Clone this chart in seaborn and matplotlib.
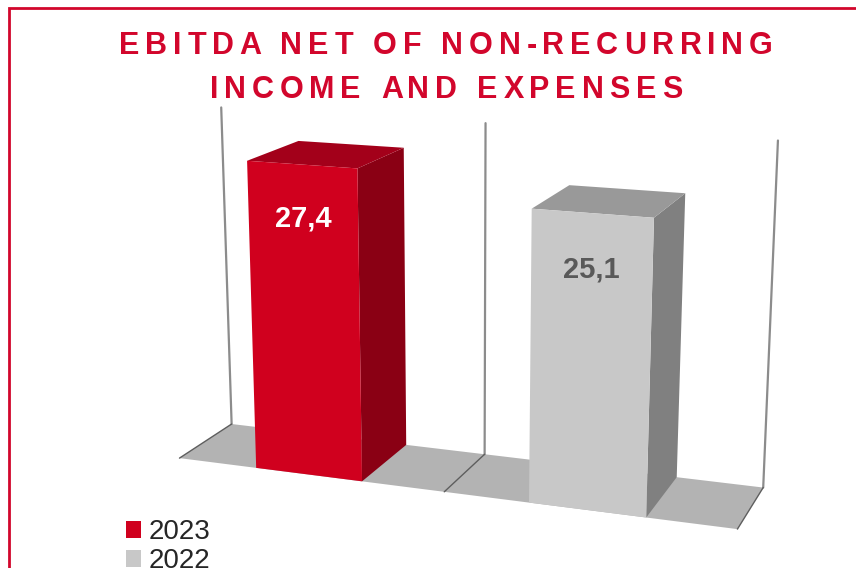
import numpy as np
import pandas as pd
import matplotlib
matplotlib.use("Agg")
import matplotlib.pyplot as plt
import matplotlib.transforms as mtransforms
from matplotlib.patches import Polygon, Patch
from matplotlib.lines import Line2D
from matplotlib.font_manager import FontProperties
import seaborn as sns

# ---- data -----------------------------------------------------------------
years = ["2023", "2022"]
ebitda = [27.4, 25.1]
value_labels = ["27,4", "25,1"]
title_lines = ["EBITDA NET OF NON-RECURRING", "INCOME AND EXPENSES"]
axis_max = 30

# ---- styling ----------------------------------------------------------------
front_colors = ["#d0001e", "#c8c8c8"]
side_colors = ["#8a0014", "#808080"]
top_colors = ["#a3001a", "#999999"]
label_colors = ["#ffffff", "#595959"]
BRAND_RED = "#d2062c"
FLOOR_COLOR = "#b3b3b3"

W, H, DPI = 856, 568, 100

sns.set_theme(style="white")
plt.rcParams["font.family"] = ["Liberation Sans", "DejaVu Sans"]

fig = plt.figure(figsize=(W / DPI, H / DPI), dpi=DPI)
fig.patch.set_facecolor("white")
ax = fig.add_axes([0, 0, 1, 1])
ax.set_axis_off()

# ---- simple pinhole camera for the 3-D look --------------------------------
CAT = 24.5          # world units per category slot
VAL = 0.97          # world units per value unit
DEPTH = 10.0        # depth of floor and bars
YAW, PITCH = np.radians(20), np.radians(15)
FOCAL = 1930.0
DIST = 160.0
TARGET = np.array([12.25, 14.0, 5.0])
CX, CY = 465.0, 313.0

FWD = np.array([-np.sin(YAW) * np.cos(PITCH), -np.sin(PITCH), np.cos(YAW) * np.cos(PITCH)])
RIGHT = np.array([np.cos(YAW), 0.0, np.sin(YAW)])
UP = np.array([-np.sin(YAW) * np.sin(PITCH), np.cos(PITCH), np.cos(YAW) * np.sin(PITCH)])
EYE = TARGET - DIST * FWD


def project(x, y, z):
    """Category/value/depth coordinates -> pixel coordinates (origin top-left)."""
    x, y, z = np.broadcast_arrays(np.asarray(x, float) * CAT,
                                  np.asarray(y, float) * VAL, np.asarray(z, float))
    d = np.stack([x - EYE[0], y - EYE[1], z - EYE[2]], axis=-1)
    zc = d @ FWD
    return np.stack([CX + FOCAL * (d @ RIGHT) / zc, CY - FOCAL * (d @ UP) / zc], axis=-1)


class Scene(mtransforms.Transform):
    """Maps (category, value) on the plane at a given depth into pixels."""
    input_dims = 2
    output_dims = 2
    is_separable = False
    has_inverse = False

    def __init__(self, plane_z=0.0):
        super().__init__()
        self.plane_z = plane_z

    def transform_non_affine(self, values):
        values = np.asarray(values, float)
        return project(values[:, 0], values[:, 1], np.full(len(values), self.plane_z))


to_fig = mtransforms.Affine2D().scale(1 / W, -1 / H).translate(0, 1) + fig.transFigure


def add_face(points, color, z):
    ax.add_patch(Polygon(points, closed=True, facecolor=color, edgecolor="none",
                         transform=to_fig, clip_on=False, zorder=z))


def add_edge(points, color, lw, z):
    ax.add_line(Line2D(points[:, 0], points[:, 1], color=color, lw=lw,
                       transform=to_fig, clip_on=False, zorder=z))


# ---- bars --------------------------------------------------------------------
df = pd.DataFrame({"year": years, "ebitda": ebitda})
sns.barplot(data=df, x="year", y="ebitda", hue="year", order=years, hue_order=years,
            palette=front_colors, width=0.4, saturation=1, legend=False, ax=ax)
ax.set_ylim(0, axis_max)

n = len(years)
bars = sorted(ax.patches, key=lambda p: p.get_x())

# floor
add_face(project([-0.5, n - 0.5, n - 0.5, -0.5], 0, [0, 0, DEPTH, DEPTH]), FLOOR_COLOR, 1)

# category gridlines on the floor and on the back wall
for xb in np.arange(n + 1) - 0.5:
    add_edge(project([xb, xb], [0, axis_max], [DEPTH, DEPTH]), "#8c8c8c", 1.6, 2)
    add_edge(project([xb, xb], [0, 0], [0, DEPTH]), "#5e5e5e", 1.0, 2)

for i, bar in enumerate(bars):
    x0 = bar.get_x()
    x1 = x0 + bar.get_width()
    h = bar.get_height()
    add_face(project([x1, x1, x1, x1], [0, h, h, 0], [0, 0, DEPTH, DEPTH]), side_colors[i], 3)
    add_face(project([x0, x1, x1, x0], [h, h, h, h], [0, 0, DEPTH, DEPTH]), top_colors[i], 3)
    bar.set_transform(Scene(0.0) + to_fig)
    bar.set_clip_on(False)
    bar.set_linewidth(0)
    bar.set_zorder(4)
    cx = x0 + bar.get_width() / 2
    lx, ly = project(cx, h - 4.6, 0)
    ax.text(lx, ly, value_labels[i], transform=to_fig, ha="center", va="center",
            fontsize=21, fontweight="bold", color=label_colors[i],
            family="Liberation Sans", zorder=6, clip_on=False)

# ---- title with letter spacing ------------------------------------------------
title_fp = FontProperties(family="Liberation Sans", weight="bold", size=22)
renderer = fig.canvas.get_renderer()


def text_width(s):
    w, _, _ = renderer.get_text_width_height_descent(s + "|", title_fp, ismath=False)
    w0, _, _ = renderer.get_text_width_height_descent("|", title_fp, ismath=False)
    return w - w0


TRACK = 5.8
for line, baseline in zip(title_lines, [54, 98]):
    total = text_width(line) + TRACK * (len(line) - 1)
    start = 446 - total / 2
    for k, ch in enumerate(line):
        xk = start + text_width(line[:k]) + TRACK * k
        fig.text(xk, baseline, ch, transform=to_fig, fontproperties=title_fp,
                 color=BRAND_RED, ha="left", va="baseline")

# ---- legend -------------------------------------------------------------------
handles = [Patch(facecolor=c, edgecolor="none") for c in front_colors]
fig.legend(handles=handles, labels=years, loc="upper left",
           bbox_to_anchor=(126 / W, 1 - 519 / H), frameon=False,
           prop=FontProperties(family="Liberation Sans", size=20),
           handlelength=0.55, handleheight=0.55, handletextpad=0.25,
           labelspacing=0.12, borderpad=0, borderaxespad=0)

# ---- frame --------------------------------------------------------------------
fig.add_artist(Line2D([9.5, 9.5, W], [H, 8, 8], transform=to_fig,
                      color=BRAND_RED, lw=2.0, solid_joinstyle="miter"))

fig.savefig("out.png", dpi=DPI, facecolor="white")
